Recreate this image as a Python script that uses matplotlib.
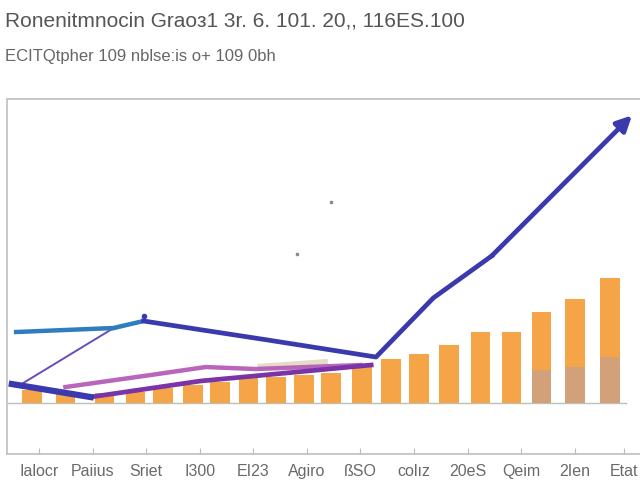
import matplotlib
matplotlib.use("Agg")
import matplotlib.pyplot as plt

# ---- data ----
title = "Ronenitmnocin Graoз1 3r. 6. 101. 20,, 116ES.100"
subtitle = "ECITQtpher 109 nblse:is o+ 109 0bh"
tick_labels = ["Ialocr", "Paiius", "Sriet", "I300", "EI23", "Agiro",
               "ßSO", "colız", "20eS", "Qeim", "2Ien", "Etat"]
tick_pos = [0, 1, 2, 3, 4, 5, 6, 7, 8, 9, 10, 10.92]

bar_x = [-0.13, 0.49, 1.22, 1.80, 2.32, 2.87, 3.37, 3.91, 4.42, 4.94,
         5.45, 6.03, 6.57, 7.10, 7.66, 8.24, 8.82, 9.38, 10.0, 10.66]
bar_h = [5.2, 4.8, 4.0, 4.4, 6.0, 7.2, 8.4, 10.0, 10.4, 11.2,
         12.0, 14.4, 17.6, 19.6, 23.2, 28.4, 28.4, 36.4, 41.6, 50.0]

shade_x = [9.38, 10.0, 10.66]
shade_h = [13.2, 14.4, 18.4]

main_x = [1.95, 4.27, 6.29, 7.36, 8.45, 11.07]
main_y = [32.8, 25.2, 18.4, 42.0, 58.8, 115.0]

light_x = [-0.43, 1.39, 1.95]
light_y = [28.4, 30.0, 32.8]

thin_x = [-0.36, 1.33, 1.95]
thin_y = [7.2, 29.2, 32.8]

low_x = [-0.51, 0.96]
low_y = [7.6, 2.4]

purple_x = [0.96, 3.01, 6.20]
purple_y = [2.4, 8.8, 15.2]

magenta_x = [0.49, 2.08, 3.11, 4.04, 6.0]
magenta_y = [6.4, 11.2, 14.4, 13.6, 15.2]

beige_x = [4.08, 5.39]
beige_y = [14.4, 16.4]

dots_x = [5.45, 4.81]
dots_y = [80.4, 59.6]

# ---- figure ----
plt.rcParams["font.family"] = ["Liberation Sans", "DejaVu Sans"]
fig = plt.figure(figsize=(6.4, 4.8), dpi=100)
ax = fig.add_axes([0.011, 0.054, 0.989, 0.74])

ax.bar(bar_x, bar_h, width=0.37, color="#F5A547", zorder=2)
ax.bar(shade_x, shade_h, width=0.37, color="#A89AB8", alpha=0.45, zorder=2.5)

ax.plot(beige_x, beige_y, color="#E4DCC6", lw=4.5, solid_capstyle="butt", zorder=3)
ax.plot(magenta_x, magenta_y, color="#B155B5", lw=3.2, alpha=0.9, zorder=3)
ax.plot(purple_x, purple_y, color="#7A34A6", lw=3.4, zorder=4)
ax.plot(thin_x, thin_y, color="#6A4CBC", lw=1.4, zorder=4)
ax.plot(light_x, light_y, color="#2F7DBE", lw=3.2, zorder=4)
ax.plot(low_x, low_y, color="#3A3AAE", lw=4.5, zorder=5)
ax.plot(main_x[:-1], main_y[:-1], color="#3A3AAE", lw=3.4, zorder=5)
ax.annotate("", xy=(main_x[-1], main_y[-1]), xytext=(main_x[-2], main_y[-2]),
            arrowprops=dict(arrowstyle="-|>,head_length=0.9,head_width=0.45",
                            color="#3A3AAE", lw=3.4, shrinkA=0, shrinkB=0),
            zorder=5)
ax.plot([main_x[0]], [main_y[0] + 2], "o", color="#3A3AAE", ms=3, zorder=5)
ax.plot(dots_x, dots_y, "o", color="#888888", ms=1.6, zorder=3)

ax.plot([-0.6, 10.95], [0, 0], color="#B9C2B9", lw=1.0, zorder=1)

ax.set_xlim(-0.6, 11.22)
ax.set_ylim(-20.4, 121.6)
ax.set_yticks([])
ax.set_xticks(tick_pos)
ax.set_xticklabels(tick_labels, fontsize=11.5, color="#6A6A6A")
ax.tick_params(axis="x", direction="in", length=4, color="#BBBBBB", pad=7)

for side in ["left", "top", "bottom"]:
    ax.spines[side].set_color("#C4C4C4")
    ax.spines[side].set_linewidth(1.3)
ax.spines["right"].set_visible(False)

fig.text(0.008, 1 - 21 / 480, title, fontsize=15, color="#555555", va="center")
fig.text(0.008, 1 - 56 / 480, subtitle, fontsize=12, color="#666666", va="center")

fig.savefig("out.png", dpi=100)
